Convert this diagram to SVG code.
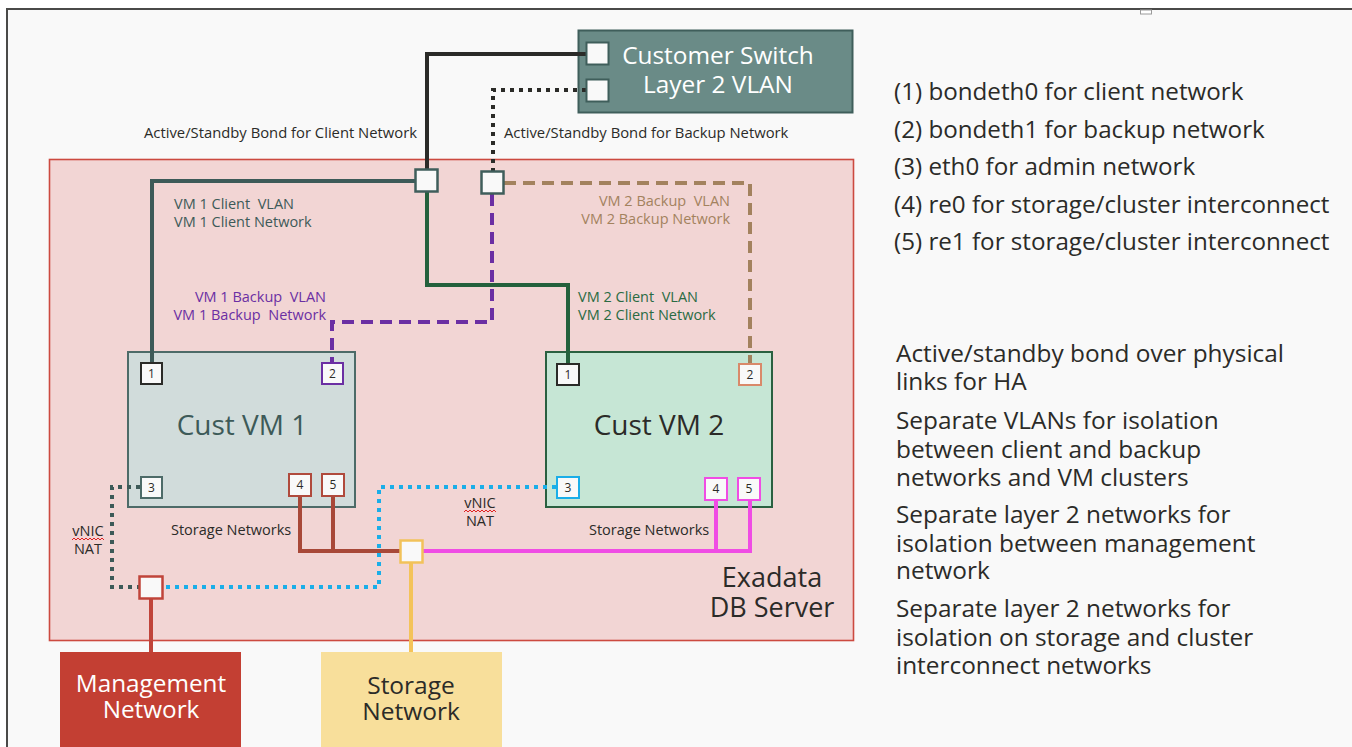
<svg xmlns="http://www.w3.org/2000/svg" width="1352" height="747" viewBox="0 0 1352 747">
<style>
text{font-family:"Open Sans","Noto Sans","DejaVu Sans",sans-serif;}
.port{fill:#f9f9f9;stroke-width:2;}
.pn{font-size:12px;fill:#2b2b28;text-anchor:middle;}
.jn{fill:#f9f9f9;stroke-width:2.5;}
.ln{fill:none;stroke-width:4;}
.dot{stroke-dasharray:4 5;}
.dash{stroke-dasharray:12 7;}
.sm{font-size:14.5px;}
.top{font-size:14.8px;}
.leg{font-size:24.2px;fill:#2b2b28;}
.leg2{font-size:24.4px;fill:#2b2b28;}
</style>
<rect x="0" y="0" width="1352" height="747" fill="#ffffff"/>
<rect x="7" y="9" width="1360" height="760" fill="#f9f9f9" stroke="#4a4a48" stroke-width="2"/>
<rect x="1140.5" y="10" width="11" height="4" fill="#ffffff" stroke="#9a9a9a" stroke-width="1"/>

<g id="exadata">
<rect x="49.5" y="159.5" width="804" height="481" fill="#f2d5d4" stroke="#cc4a40" stroke-width="1.6"/>
<text x="772" y="587" font-size="27" fill="#2b2b28" text-anchor="middle">Exadata</text>
<text x="772" y="617" font-size="27" fill="#2b2b28" text-anchor="middle">DB Server</text>
</g>

<g id="customer-switch">
<rect x="578.5" y="30.5" width="274" height="82" fill="#6a8b87" stroke="#3f5e5b" stroke-width="2"/>
<text x="718" y="64" font-size="24.4" fill="#ffffff" text-anchor="middle">Customer Switch</text>
<text x="718" y="93" font-size="24.4" fill="#ffffff" text-anchor="middle">Layer 2 VLAN</text>
</g>

<g id="cust-vm1">
<rect x="128" y="352" width="227" height="155" fill="#d1dcdb" stroke="#4d6b68" stroke-width="2"/>
<text x="242" y="435" font-size="28" fill="#3d5a58" text-anchor="middle">Cust VM 1</text>
</g>

<g id="cust-vm2">
<rect x="546" y="352" width="226" height="155" fill="#c6e6d5" stroke="#2a6040" stroke-width="2"/>
<text x="659" y="435" font-size="28" fill="#2b2b28" text-anchor="middle">Cust VM 2</text>
</g>

<g id="management-network">
<rect x="60" y="652" width="181" height="100" fill="#c33f33"/>
<text x="151" y="692" font-size="24.3" fill="#ffffff" text-anchor="middle">Management</text>
<text x="151" y="718" font-size="24.3" fill="#ffffff" text-anchor="middle">Network</text>
</g>

<g id="storage-network">
<rect x="321" y="652" width="181" height="100" fill="#f8df9b"/>
<text x="411" y="694" font-size="24.5" fill="#2b2b28" text-anchor="middle">Storage</text>
<text x="411" y="720" font-size="24.5" fill="#2b2b28" text-anchor="middle">Network</text>
</g>

<g id="connectors">
<path class="ln" d="M586,54 H427 V170" stroke="#2b2b28"/>
<path class="ln dot" d="M586,90 H493 V172" stroke="#2b2b28"/>
<path class="ln" d="M415,181 H152 V362" stroke="#3d5a58"/>
<path class="ln" d="M427,192 V285 H568 V363" stroke="#24603c"/>
<path class="ln dash" d="M492,194 V322 H332 V362" stroke="#6b2fa3"/>
<path class="ln dash" d="M504,183 H750 V363" stroke="#a3825e"/>
<path class="ln" d="M300,497 V551 H400 M333,497 V551" stroke="#a84838"/>
<path class="ln" d="M423,551 H750 V500 M716,500 V551" stroke="#f04ce4"/>
<path class="ln" d="M411,563 V652" stroke="#f4c35a" stroke-width="3"/>
<path class="ln" d="M151,599 V652" stroke="#c0443a"/>
<path class="ln dot" d="M140,487 H112 V587 H139" stroke="#3d5a58"/>
<path class="ln dot" d="M556,487 H379 V587 H163" stroke="#1aaee8"/>
</g>

<g id="labels">
<text class="top" x="144" y="138" fill="#2b2b28">Active/Standby Bond for Client Network</text>
<text class="top" x="504" y="138" fill="#2b2b28">Active/Standby Bond for Backup Network</text>
<text class="sm" x="174" y="209" fill="#3d5a58" xml:space="preserve">VM 1 Client  VLAN</text>
<text class="sm" x="174" y="227" fill="#3d5a58">VM 1 Client Network</text>
<text class="sm" x="730" y="206" fill="#a3825e" text-anchor="end" xml:space="preserve">VM 2 Backup  VLAN</text>
<text class="sm" x="730" y="224" fill="#a3825e" text-anchor="end">VM 2 Backup Network</text>
<text class="sm" x="326" y="302" fill="#6b2fa3" text-anchor="end" xml:space="preserve">VM 1 Backup  VLAN</text>
<text class="sm" x="326" y="320" fill="#6b2fa3" text-anchor="end" xml:space="preserve">VM 1 Backup  Network</text>
<text class="sm" x="578" y="302" fill="#2a6b43" xml:space="preserve">VM 2 Client  VLAN</text>
<text class="sm" x="578" y="320" fill="#2a6b43">VM 2 Client Network</text>
<text class="sm" x="171" y="535" fill="#2b2b28">Storage Networks</text>
<text class="sm" x="589" y="535" fill="#2b2b28">Storage Networks</text>
<text class="sm" x="88" y="536" fill="#2b2b28" text-anchor="middle">vNIC</text>
<text class="sm" x="88" y="554" fill="#2b2b28" text-anchor="middle">NAT</text>
<text class="sm" x="480" y="508" fill="#2b2b28" text-anchor="middle">vNIC</text>
<text class="sm" x="480" y="526" fill="#2b2b28" text-anchor="middle">NAT</text>
<path d="M72,540 l2,-2 l2,2 l2,-2 l2,2 l2,-2 l2,2 l2,-2 l2,2 l2,-2 l2,2 l2,-2 l2,2 l2,-2 l2,2 l2,-2 l2,2" fill="none" stroke="#e02020" stroke-width="1"/>
<path d="M464,512 l2,-2 l2,2 l2,-2 l2,2 l2,-2 l2,2 l2,-2 l2,2 l2,-2 l2,2 l2,-2 l2,2 l2,-2 l2,2 l2,-2 l2,2" fill="none" stroke="#e02020" stroke-width="1"/>
</g>

<g id="switch-ports">
<rect class="port" x="586.5" y="42.5" width="22" height="22" stroke="#3f5e5b"/>
<rect class="port" x="586.5" y="79.5" width="22" height="22" stroke="#3f5e5b"/>
</g>

<g id="junction-client"><rect class="jn" x="415.5" y="169.5" width="22" height="22" stroke="#3f5e5b"/></g>
<g id="junction-backup"><rect class="jn" x="481.5" y="171.5" width="22" height="22" stroke="#3f5e5b"/></g>
<g id="junction-storage"><rect class="jn" x="400.5" y="540.5" width="22" height="22" stroke="#f2c25a"/></g>
<g id="junction-management"><rect class="jn" x="139.5" y="576.5" width="23" height="22" stroke="#c0443a"/></g>

<g id="vm1-ports">
<rect class="port" x="141" y="363" width="21" height="21" stroke="#2b2b28"/><text class="pn" x="151.5" y="378">1</text>
<rect class="port" x="322" y="363" width="21" height="21" stroke="#6b2fa3"/><text class="pn" x="332.5" y="378">2</text>
<rect class="port" x="141" y="477" width="21" height="21" stroke="#4d6b68"/><text class="pn" x="151.5" y="492">3</text>
<rect class="port" x="289" y="474" width="22" height="22" stroke="#b04a3c"/><text class="pn" x="300" y="489">4</text>
<rect class="port" x="322" y="474" width="22" height="22" stroke="#b04a3c"/><text class="pn" x="333" y="489">5</text>
</g>

<g id="vm2-ports">
<rect class="port" x="557" y="364" width="22" height="21" stroke="#2b2b28"/><text class="pn" x="568" y="379">1</text>
<rect class="port" x="739" y="364" width="22" height="21" stroke="#d9896a"/><text class="pn" x="750" y="379">2</text>
<rect class="port" x="557" y="477" width="22" height="21" stroke="#1aaee8"/><text class="pn" x="568" y="492">3</text>
<rect class="port" x="705" y="478" width="22" height="22" stroke="#f04ce4"/><text class="pn" x="716" y="493">4</text>
<rect class="port" x="738" y="478" width="22" height="22" stroke="#f04ce4"/><text class="pn" x="749" y="493">5</text>
</g>

<g id="legend-interfaces">
<text class="leg" x="894" y="100">(1) bondeth0 for client network</text>
<text class="leg" x="894" y="138">(2) bondeth1 for backup network</text>
<text class="leg" x="894" y="175">(3) eth0 for admin network</text>
<text class="leg" x="894" y="213">(4) re0 for storage/cluster interconnect</text>
<text class="leg" x="894" y="250">(5) re1 for storage/cluster interconnect</text>
</g>

<g id="legend-notes">
<text class="leg2" x="896" y="362">Active/standby bond over physical</text>
<text class="leg2" x="896" y="390">links for HA</text>
<text class="leg2" x="896" y="429">Separate VLANs for isolation</text>
<text class="leg2" x="896" y="458">between client and backup</text>
<text class="leg2" x="896" y="486">networks and VM clusters</text>
<text class="leg2" x="896" y="523">Separate layer 2 networks for</text>
<text class="leg2" x="896" y="552">isolation between management</text>
<text class="leg2" x="896" y="579">network</text>
<text class="leg2" x="896" y="617">Separate layer 2 networks for</text>
<text class="leg2" x="896" y="646">isolation on storage and cluster</text>
<text class="leg2" x="896" y="674">interconnect networks</text>
</g>
</svg>
